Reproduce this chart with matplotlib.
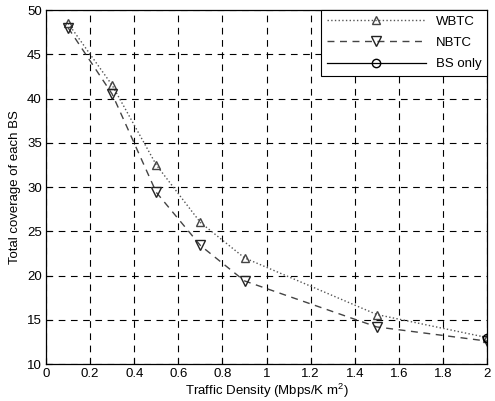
import matplotlib
matplotlib.use("Agg")
import matplotlib.pyplot as plt

plt.rcParams['font.family'] = ['Liberation Sans', 'DejaVu Sans']

# Traffic density samples (Mbps/Km^2)
density = [0.1, 0.3, 0.5, 0.7, 0.9, 1.5, 2.0]

# Total coverage of each BS
wbtc = [48.5, 41.5, 32.5, 26.0, 22.0, 15.6, 13.0]
nbtc = [48.0, 40.5, 29.4, 23.4, 19.4, 14.2, 12.6]
bs_only_x = [2.0]
bs_only = [12.9]

x_ticks = [0, 0.2, 0.4, 0.6, 0.8, 1, 1.2, 1.4, 1.6, 1.8, 2]
x_tick_labels = ['0', '0.2', '0.4', '0.6', '0.8', '1', '1.2', '1.4', '1.6', '1.8', '2']
y_ticks = [10, 15, 20, 25, 30, 35, 40, 45, 50]

fig = plt.figure(figsize=(4.95, 4.01), dpi=100)
ax = fig.add_axes([0.093, 0.092, 0.891, 0.883])

ax.plot(density, wbtc, linestyle=':', color='#555555', lw=1.0,
        marker='^', markersize=6, markerfacecolor='none',
        markeredgecolor='#444444', label='WBTC')
ax.plot(density, nbtc, linestyle=(0, (5, 4)), color='#444444', lw=1.0,
        marker='v', markersize=7, markerfacecolor='none',
        markeredgecolor='#222222', label='NBTC')
ax.plot(bs_only_x, bs_only, linestyle='-', color='black', lw=0.9,
        marker='o', markersize=6, markerfacecolor='none',
        markeredgecolor='black', label='BS only')

ax.set_xlim(0, 2)
ax.set_ylim(10, 50)
ax.set_xticks(x_ticks)
ax.set_xticklabels(x_tick_labels)
ax.set_yticks(y_ticks)
ax.tick_params(direction='in', length=4, labelsize=9.5, colors='black', pad=3)
ax.grid(True, color='black', linestyle=(0, (6, 5)), lw=0.8)

for side in ax.spines.values():
    side.set_color('black')
    side.set_linewidth(0.9)

ax.set_xlabel('Traffic Density (Mbps/K m$^{\\mathregular{2}}$)', fontsize=9.5, labelpad=1)
ax.set_ylabel('Total coverage of each BS', fontsize=9.5, labelpad=4)

leg = ax.legend(loc='upper right', fontsize=9.5, frameon=True, fancybox=False,
                edgecolor='black', framealpha=1.0, borderaxespad=0.0,
                handlelength=7.5, handletextpad=0.8, borderpad=0.4,
                labelspacing=0.7)
leg.get_frame().set_linewidth(0.8)

fig.savefig('out.png', dpi=100)
